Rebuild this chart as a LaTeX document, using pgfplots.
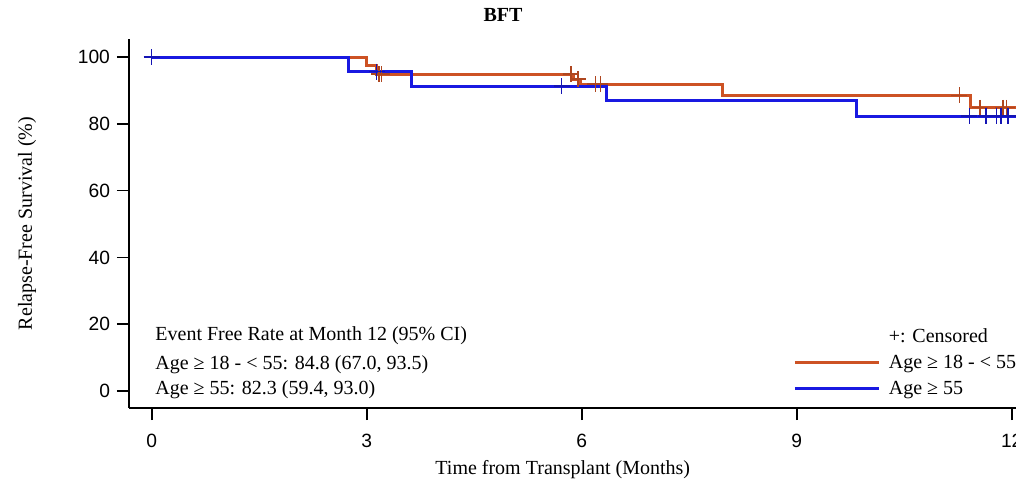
\documentclass[border=0pt]{standalone}
\usepackage{fontspec}
\setmainfont{Liberation Serif}
\newfontfamily\ticksf{Liberation Sans}
\usepackage{pgfplots}
\pgfplotsset{compat=1.18}
\definecolor{orangeC}{RGB}{205,82,36}
\definecolor{blueC}{RGB}{25,25,225}
\begin{document}
\begin{tikzpicture}
\begin{axis}[
  at={(0,0)}, anchor=south west,
  scale only axis, width=443.5pt, height=184.5pt,
  xmin=-0.317, xmax=12.06, ymin=-5.1, ymax=105.4,
  axis x line*=bottom, axis y line*=left,
  axis line style={line width=0.8pt},
  tick align=outside, major tick length=6pt,
  tick style={line width=0.8pt, black},
  xtick={0,3,6,9,12}, ytick={0,20,40,60,80,100},
  /pgf/number format/assume math mode=true,
  tick label style={font=\ticksf\fontsize{9.6}{11}\selectfont},
  xticklabel style={yshift=-3.5pt},
  font=\fontsize{10}{12}\selectfont,
  xlabel={Time from Transplant (Months)},
  ylabel={Relapse-Free Survival (\%)},
  xlabel style={at={(rel axis cs:0.489,-0.168)}, anchor=center},
  ylabel style={at={(rel axis cs:-0.115,0.5)}, anchor=center},
  clip=false,
  legend style={at={(rel axis cs:0.7486,0.222)}, anchor=north west, draw=none, fill=none,
    inner sep=0pt, row sep=3pt, font=\fontsize{10}{12}\selectfont,
    nodes={inner sep=0pt, text height=8pt, text depth=2pt}},
  legend cell align=left,
  legend image code/.code={\draw[#1] (0pt,0pt) -- (42pt,0pt); \path[draw=none] (0pt,0pt) -- (47pt,0pt);},
]
\addlegendimage{empty legend}\addlegendentry{+: Censored}
\addlegendimage{orangeC, line width=1.5pt}\addlegendentry{Age ≥ 18 - < 55}
\addlegendimage{blueC, line width=1.5pt}\addlegendentry{Age ≥ 55}

\addplot[forget plot, const plot, orangeC, line width=1.5pt] coordinates {
 (0,100) (3.0,97.5) (3.14,94.9) (5.88,93.4) (5.98,91.9) (7.96,88.5) (11.43,84.8) (12.06,84.8)};
\addplot[forget plot, const plot, blueC, line width=1.5pt] coordinates {
 (0,100) (2.75,95.65) (3.63,91.3) (6.35,86.96) (9.84,82.3) (12.06,82.3)};
\addplot[forget plot, only marks, mark=+, mark size=4pt, orangeC!85!black, mark options={line width=0.7pt}] coordinates {
 (3.17,94.9) (3.21,94.9) (5.85,94.9) (5.95,93.4) (6.19,91.9) (6.26,91.9) (11.27,88.5) (11.56,84.8) (11.88,84.8) (11.93,84.8)};
\addplot[forget plot, only marks, mark=+, mark size=4pt, blueC!80!black, mark options={line width=0.7pt}] coordinates {
 (0,100) (3.14,95.65) (5.72,91.3) (11.41,82.3) (11.64,82.3) (11.79,82.3) (11.85,82.3) (11.95,82.3)};

\node[anchor=west, inner sep=0pt] at (axis cs:0.046,16.5) {Event Free Rate at Month 12 (95\% CI)};
\node[anchor=west, inner sep=0pt] at (axis cs:0.046,8.0) {Age ≥ 18 - < 55: 84.8 (67.0, 93.5)};
\node[anchor=west, inner sep=0pt] at (axis cs:0.046,0.3) {Age ≥ 55: 82.3 (59.4, 93.0)};
\node[font=\bfseries\fontsize{10}{12}\selectfont] at (rel axis cs:0.4217,1.065) {BFT};
\end{axis}
\pgfresetboundingbox
\path (-64.5pt,-42pt) rectangle (443.5pt,204pt);
\end{tikzpicture}
\end{document}
